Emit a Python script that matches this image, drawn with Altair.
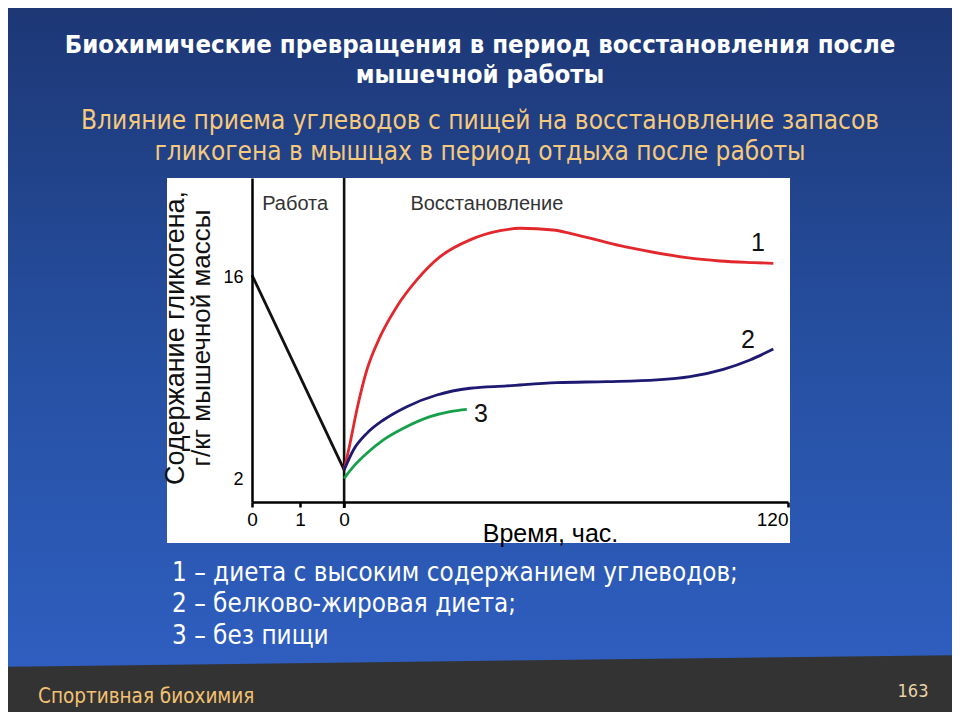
import altair as alt
import pandas as pd

# ---------------- data ----------------
work_hours = [0, 1.92]
work_glycogen = [16.2, 2.63]

s1_hours = [0, 1.62, 3.43, 6.14, 9.73, 14.24, 19.65, 25.95, 34.05, 42.16, 47.57,
            56.57, 61.08, 68.3, 74.59, 83.59, 92.62, 101.62, 110.62, 116.03]
s1_glycogen = [2.63, 4.51, 6.81, 9.59, 11.91, 14.00, 15.86, 17.48, 18.65, 19.29, 19.46,
               19.34, 19.11, 18.65, 18.25, 17.79, 17.41, 17.18, 17.07, 17.02]

s2_hours = [0, 2.51, 6.14, 10.62, 16.95, 25.05, 34.05, 43.97, 57.49, 71.0, 84.51,
            93.51, 102.51, 109.73, 116.03]
s2_glycogen = [2.63, 4.02, 5.18, 6.11, 7.04, 7.85, 8.32, 8.48, 8.71, 8.78, 8.90,
               9.13, 9.64, 10.29, 11.05]

s3_hours = [0, 2.51, 6.14, 10.62, 16.03, 23.24, 28.65, 33.16]
s3_glycogen = [2.05, 2.86, 3.79, 4.72, 5.53, 6.34, 6.69, 6.85]

curve_labels = ["1", "2", "3"]
curve_label_hours = [111.9, 109.2, 37.0]
curve_label_glycogen = [18.44, 11.68, 6.53]

phase_names = ["Работа", "Восстановление"]
phase_keys = ["work", "recovery"]
phase_label_hours = [0.9, 38.6]
phase_label_glycogen = [21.15, 21.15]

x_tick_phase = ["work", "work", "recovery", "recovery"]
x_tick_hours = [0, 1, 0, 120]
x_tick_text = ["0", "1", "0", "120"]
y_ticks = [2, 16]

title_lines = ["Биохимические превращения в период восстановления после",
               "мышечной работы"]
subtitle_lines = ["Влияние приема углеводов с пищей на восстановление запасов",
                  "гликогена в мышцах в период отдыха после работы"]
legend_lines = ["1 – диета с высоким содержанием углеводов;",
                "2 – белково-жировая диета;",
                "3 – без пищи"]
y_title_lines = ["Содержание гликогена,", "г/кг мышечной массы"]
x_title = "Время, час."
footer_left = "Спортивная биохимия"
footer_right = "163"

# ---------------- broken time axis ----------------
WORK_UNIT = 48.0          # axis units per hour of work
WORK_END = work_hours[-1] * WORK_UNIT
REC_UNIT = 3.7            # axis units per hour of recovery
X_MAX = WORK_END + 120 * REC_UNIT
POS_EXPR = f"datum.phase == 'work' ? datum.hour * {WORK_UNIT} : {WORK_END} + datum.hour * {REC_UNIT}"


def pos(phase, hour):
    return hour * WORK_UNIT if phase == "work" else WORK_END + hour * REC_UNIT


tick_values = [pos(p, h) for p, h in zip(x_tick_phase, x_tick_hours)]
label_expr = ""
for v, t in zip(tick_values[:-1], x_tick_text[:-1]):
    label_expr += f"abs(datum.value - {v}) < 1 ? '{t}' : "
label_expr += f"'{x_tick_text[-1]}'"

rows = []
for series, phase, hs, gs in [("work", "work", work_hours, work_glycogen),
                              ("1", "recovery", s1_hours, s1_glycogen),
                              ("2", "recovery", s2_hours, s2_glycogen),
                              ("3", "recovery", s3_hours, s3_glycogen)]:
    for i, (h, g) in enumerate(zip(hs, gs)):
        rows.append({"series": series, "phase": phase, "hour": h, "glycogen": g, "order": i})
lines_df = pd.DataFrame(rows)

labels_df = pd.DataFrame({"text": curve_labels, "phase": "recovery",
                          "hour": curve_label_hours, "glycogen": curve_label_glycogen})
phase_df = pd.DataFrame({"text": phase_names, "phase": phase_keys,
                         "hour": phase_label_hours, "glycogen": phase_label_glycogen})
boundary_df = pd.DataFrame({"phase": ["recovery"], "hour": [0]})

W, H = 536, 324
xscale = alt.Scale(domain=[0, X_MAX], nice=False, zero=False)
yscale = alt.Scale(domain=[0.4, 22.96], nice=False, zero=False)

x_axis = alt.Axis(values=tick_values, labelExpr=label_expr, grid=False,
                  domainColor="black", domainWidth=2.5, tickColor="black", tickWidth=2.5,
                  tickSize=5, labelPadding=3, labelFontSize=19, labelColor="black",
                  labelFont="Liberation Sans",
                  labelAlign={"condition": {"test": f"datum.value > {X_MAX - 1}", "value": "right"},
                              "value": "center"},
                  title=x_title, titleFont="Liberation Sans", titleFontSize=25,
                  titleFontWeight="normal", titleColor="black", titleX=298, titleY=31,
                  titleAlign="center", titleBaseline="middle", zindex=2)
y_axis = alt.Axis(values=y_ticks, grid=False, ticks=False, domainColor="black",
                  domainWidth=2.5, labelPadding=9, labelFontSize=18, labelColor="black",
                  labelFont="Liberation Sans", title="", zindex=2)

X = alt.X("u:Q", scale=xscale, axis=x_axis)
Y = alt.Y("glycogen:Q", scale=yscale, axis=y_axis)

# ---------------- decoration ----------------
bg_grad = alt.Gradient(gradient="linear", x1=0, x2=0, y1=0, y2=1,
                       stops=[alt.GradientStop(color="#1d3775", offset=0),
                              alt.GradientStop(color="#2650a2", offset=0.5),
                              alt.GradientStop(color="#3060c4", offset=1)])
background = alt.Chart(boundary_df).mark_rect(color=bg_grad).encode(
    x=alt.value(-244), x2=alt.value(700), y=alt.value(-170), y2=alt.value(534))
footer_band = alt.Chart(boundary_df).mark_rule(color="#333333", strokeWidth=80, strokeCap="butt").encode(
    x=alt.value(-270), x2=alt.value(720), y=alt.value(529), y2=alt.value(517))
white_box = alt.Chart(boundary_df).mark_rect(color="white").encode(
    x=alt.value(-85), x2=alt.value(538), y=alt.value(0), y2=alt.value(365))

# ---------------- data marks ----------------
lines = alt.Chart(lines_df).transform_calculate(u=POS_EXPR).mark_line(
    strokeWidth=2.8, interpolate="monotone").encode(
    x=X, y=Y,
    color=alt.Color("series:N", scale=alt.Scale(domain=["work", "1", "2", "3"],
                                                range=["#111111", "#e2282c", "#1e1a72", "#16a04c"]),
                    legend=None),
    detail="series:N", order="order:Q")

boundary = alt.Chart(boundary_df).transform_calculate(u=POS_EXPR).mark_rule(
    color="#111111", strokeWidth=2.6).encode(x=X, y=alt.value(0), y2=alt.value(330))

curve_text = alt.Chart(labels_df).transform_calculate(u=POS_EXPR).mark_text(
    font="Liberation Sans", fontSize=25, color="#111111", align="center", baseline="middle").encode(
    x=X, y=Y, text="text:N")

phase_text = alt.Chart(phase_df).transform_calculate(u=POS_EXPR).mark_text(
    font="Liberation Sans", fontSize=20, color="#333333", align="center", baseline="middle").encode(
    x=X, y=Y, text="text:N")

NARROW = "DejaVu Sans Condensed"


def txt(s, x, y, size, color, weight="normal", font=NARROW, align="center", angle=0):
    kw = dict(font=font, fontSize=size, color=color, fontWeight=weight, align=align,
              baseline="middle", text=s)
    if angle:
        kw["angle"] = angle
    return alt.Chart(boundary_df).mark_text(**kw).encode(x=alt.value(x), y=alt.value(y))


texts = [
    txt(title_lines[0], 228, -133, 25.5, "white", "bold"),
    txt(title_lines[1], 228, -103, 25.5, "white", "bold"),
    txt(subtitle_lines[0], 228, -57, 26, "#f6c97c"),
    txt(subtitle_lines[1], 228, -26, 26, "#f6c97c"),
    txt(legend_lines[0], -80, 395, 25.8, "white", align="left"),
    txt(legend_lines[1], -80, 426, 25.8, "white", align="left"),
    txt(legend_lines[2], -80, 458, 25.8, "white", align="left"),
    txt(footer_left, -214, 519, 20.5, "#f2c272", align="left"),
    txt(footer_right, 661, 514, 18, "#ead3a6"),
    txt(y_title_lines[0], -76, 160, 27, "#111111", font="Liberation Sans", angle=270),
    txt(y_title_lines[1], -50, 160, 26, "#111111", font="Liberation Sans", angle=270),
]

chart = alt.layer(background, footer_band, white_box, boundary, lines, curve_text, phase_text,
                  *texts).properties(
    width=W, height=H,
    autosize=alt.AutoSizeParams(type="none"),
    padding={"left": 244, "top": 170, "right": 164, "bottom": 210},
    background="#1d3775",
).configure_view(stroke=None)

chart.save("out.html", embed_options={"renderer": "svg", "actions": False})
